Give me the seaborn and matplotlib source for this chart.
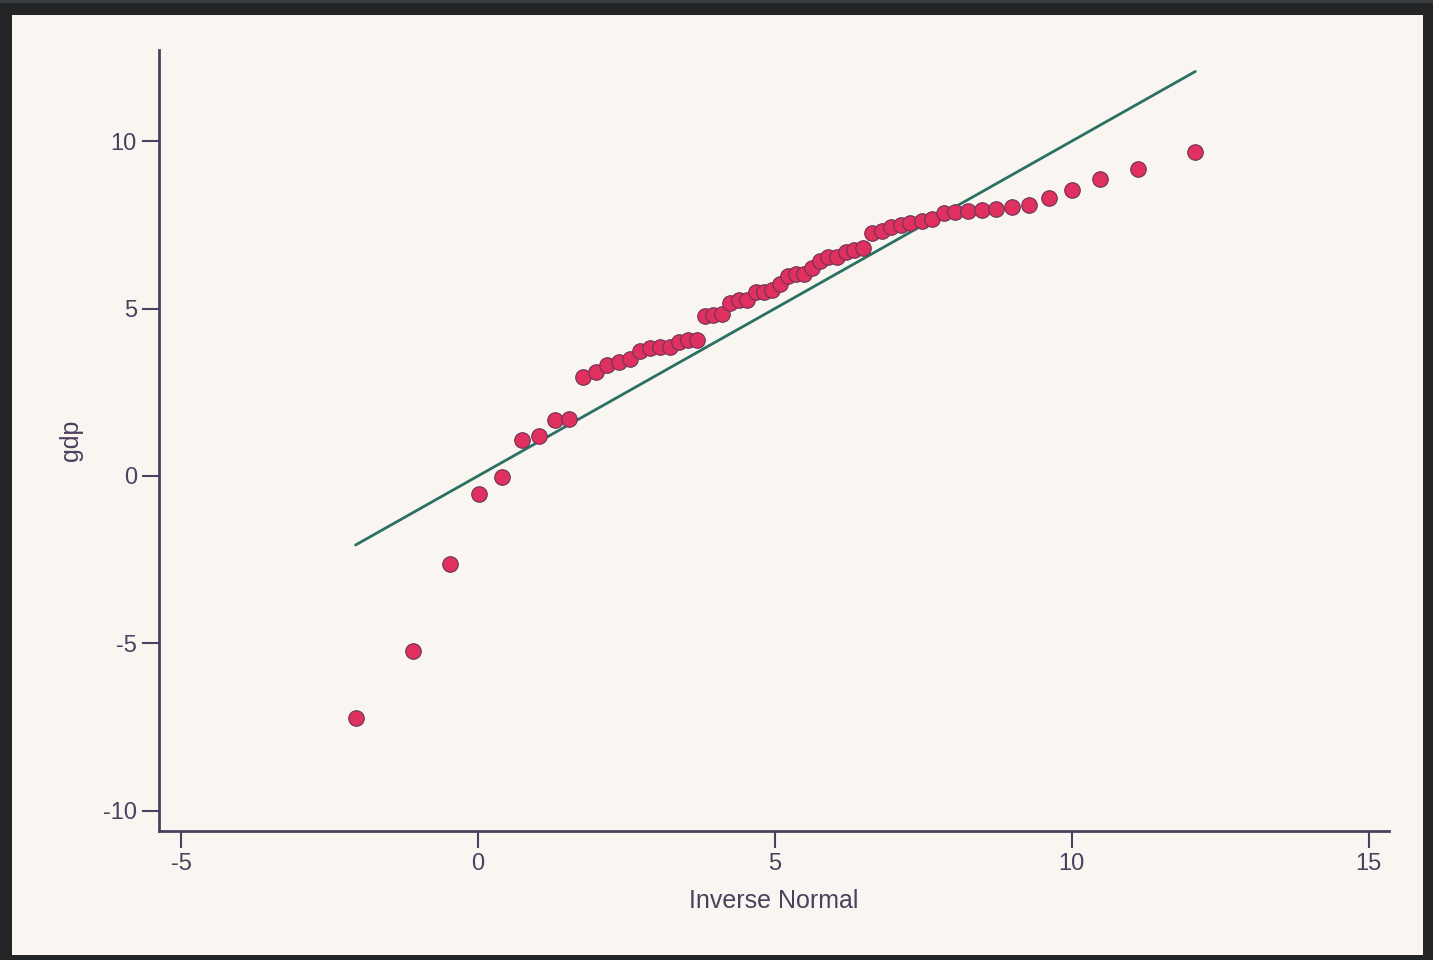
import matplotlib
matplotlib.use("Agg")
import matplotlib.pyplot as plt
import seaborn as sns
import pandas as pd
from matplotlib.patches import Rectangle

# Quantile plot of gdp against the inverse normal
inv_normal = [-2.06, -1.09, -0.47, 0.01, 0.40, 0.74, 1.03, 1.30, 1.54, 1.77,
              1.98, 2.18, 2.37, 2.56, 2.73, 2.90, 3.06, 3.23, 3.38, 3.54,
              3.69, 3.82, 3.96, 4.11, 4.25, 4.40, 4.53, 4.68, 4.81, 4.95,
              5.08, 5.22, 5.35, 5.49, 5.63, 5.76, 5.90, 6.04, 6.19, 6.34,
              6.49, 6.63, 6.80, 6.95, 7.12, 7.28, 7.47, 7.65, 7.84, 8.03,
              8.25, 8.48, 8.72, 8.99, 9.28, 9.62, 10.01, 10.48, 11.11, 12.08]
gdp = [-7.24, -5.22, -2.63, -0.54, -0.04, 1.07, 1.19, 1.66, 1.69, 2.95,
       3.10, 3.32, 3.40, 3.49, 3.74, 3.81, 3.84, 3.86, 3.99, 4.06,
       4.06, 4.78, 4.80, 4.84, 5.17, 5.26, 5.27, 5.48, 5.49, 5.55,
       5.73, 5.97, 6.02, 6.03, 6.20, 6.41, 6.54, 6.55, 6.68, 6.75,
       6.81, 7.27, 7.31, 7.43, 7.48, 7.56, 7.60, 7.67, 7.84, 7.87,
       7.90, 7.95, 7.96, 8.02, 8.09, 8.29, 8.53, 8.87, 9.16, 9.66]
x_ticks = [-5, 0, 5, 10, 15]
y_ticks = [-10, -5, 0, 5, 10]

df = pd.DataFrame({"Inverse Normal": inv_normal, "gdp": gdp})
# reference line y = x over the range of the quantiles
ref = pd.DataFrame({"x": [min(inv_normal), max(inv_normal)],
                    "y": [min(inv_normal), max(inv_normal)]})

bg = "#f9f5f1"
ink = "#4f3f5f"
sns.set_style("white")
plt.rcParams['font.family'] = ['Liberation Sans', 'DejaVu Sans']

fig = plt.figure(figsize=(14.33, 9.6), dpi=100, facecolor="#222426")
# dark window frame around the light page
fig.patches.append(Rectangle((0, 1 - 3 / 960), 1, 3 / 960, transform=fig.transFigure,
                             facecolor="#393d42", edgecolor="none", zorder=-2))
fig.patches.append(Rectangle((12 / 1433, 5 / 960), (1423 - 12) / 1433, (955 - 15) / 960,
                             transform=fig.transFigure, facecolor=bg,
                             edgecolor="none", zorder=-2))

ax = fig.add_axes([159 / 1433, 1 - 831 / 960, (1389 - 159) / 1433, (831 - 50) / 960])
ax.set_facecolor(bg)

sns.lineplot(data=ref, x="x", y="y", ax=ax, color="#2b7163", linewidth=2, zorder=2)
sns.scatterplot(data=df, x="Inverse Normal", y="gdp", ax=ax, s=125,
                color="#e0305f", edgecolor="#6b3556", linewidth=0.8, zorder=3)

ax.set_xlim(-5.37, 15.34)
ax.set_ylim(-10.6, 12.72)
ax.set_xticks(x_ticks)
ax.set_yticks(y_ticks)
ax.set_xticklabels([str(t) for t in x_ticks])
ax.set_yticklabels([str(t) for t in y_ticks])

for side in ["top", "right"]:
    ax.spines[side].set_visible(False)
for side in ["left", "bottom"]:
    ax.spines[side].set_color(ink)
    ax.spines[side].set_linewidth(2)

ax.tick_params(axis="both", direction="out", length=12, width=1.5, color=ink,
               labelcolor=ink, labelsize=17, pad=4, bottom=True, left=True)
ax.set_xlabel("Inverse Normal", fontsize=18, color=ink, labelpad=10)
ax.set_ylabel("gdp", fontsize=18, color=ink, labelpad=14)

fig.savefig("out.png", dpi=100, facecolor=fig.get_facecolor())
